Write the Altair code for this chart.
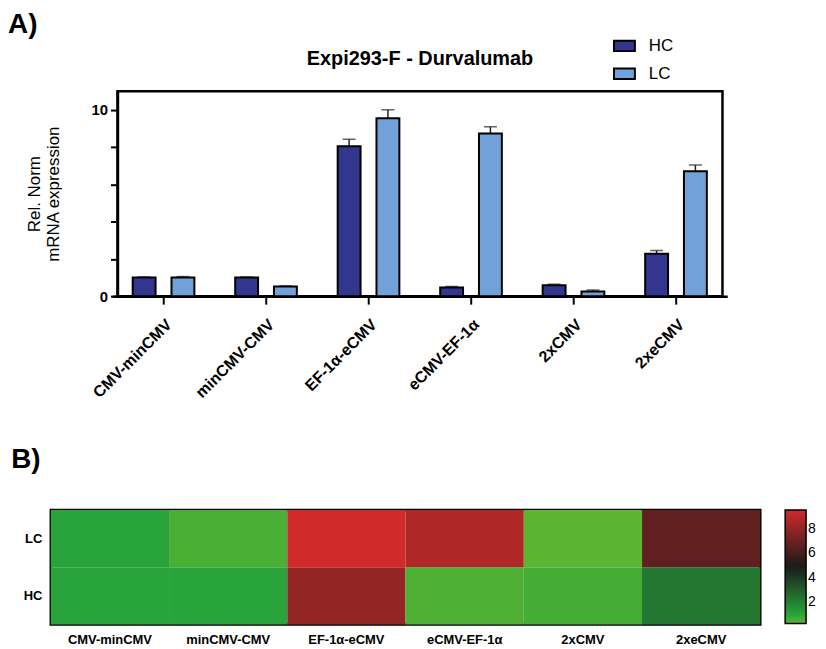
import altair as alt
import pandas as pd

constructs = ["CMV-minCMV", "minCMV-CMV", "EF-1α-eCMV", "eCMV-EF-1α", "2xCMV", "2xeCMV"]
chains = ["HC", "LC"]
hc_mean = [1.0, 1.0, 8.05, 0.46, 0.59, 2.28]
hc_upper = [1.03, 1.03, 8.42, 0.52, 0.64, 2.45]
lc_mean = [1.0, 0.52, 9.55, 8.73, 0.25, 6.70]
lc_upper = [1.05, 0.55, 10.0, 9.09, 0.33, 7.04]
y_ticks = list(range(0, 11))
heat_legend_ticks = [2, 4, 6, 8]

bar_colors = ["#32368f", "#72a0d8"]
heat_domain = [0.25, 1.0, 4.9, 9.55]
heat_colors = ["#5cb531", "#28a43b", "#1a1a1a", "#d02a2a"]

rows = []
for i, c in enumerate(constructs):
    rows.append({"construct": c, "chain": "HC", "mean": hc_mean[i], "upper": hc_upper[i]})
    rows.append({"construct": c, "chain": "LC", "mean": lc_mean[i], "upper": lc_upper[i]})
df = pd.DataFrame(rows)

FONT = "Liberation Sans"
frame = alt.ViewBackground(stroke="black", strokeWidth=2.5)

x_enc = alt.X(
    "construct:N", sort=constructs,
    scale=alt.Scale(range=[-5.2, 612.8], paddingInner=0, paddingOuter=0),
    axis=alt.Axis(title=None, labelAngle=-45, labelFontSize=16, labelFontWeight="bold",
                  labelColor="black", tickSize=8, tickWidth=2, tickColor="black",
                  domainColor="black", domainWidth=2.5, labelPadding=12, labelOffset=0),
)
xo_enc = alt.XOffset("chain:N", sort=chains,
                     scale=alt.Scale(paddingInner=0.41, paddingOuter=0.526))
y_scale = alt.Scale(domain=[0, 11], nice=False)

bars = alt.Chart(df).mark_bar(stroke="black", strokeWidth=2).encode(
    x=x_enc,
    xOffset=xo_enc,
    y=alt.Y("mean:Q", scale=y_scale,
            axis=alt.Axis(title=["Rel. Norm", "mRNA expression"], titleFontSize=17,
                          titleFontWeight="normal", titleColor="black",
                          values=y_ticks,
                          labelExpr="datum.value % 5 === 0 ? datum.label : ''",
                          labelFontSize=15, labelFontWeight="bold", labelColor="black",
                          tickSize=7, tickWidth=2, tickColor="black",
                          domainColor="black", domainWidth=2.5, grid=False,
                          labelPadding=3, titlePadding=29)),
    color=alt.Color("chain:N", sort=chains,
                    scale=alt.Scale(domain=chains, range=bar_colors),
                    legend=alt.Legend(title=None, orient="none", legendX=565, legendY=-57,
                                      symbolType="M-1,-0.5L1,-0.5L1,0.5L-1,0.5Z",
                                      symbolSize=441, symbolStrokeColor="black",
                                      symbolStrokeWidth=2, labelFontSize=17,
                                      labelColor="black", labelOffset=13,
                                      rowPadding=7, padding=0)),
)

err_rule = alt.Chart(df).mark_rule(color="#222", strokeWidth=1.5).encode(
    x=x_enc, xOffset=xo_enc, y=alt.Y("mean:Q", scale=y_scale), y2="upper:Q"
)
err_cap = alt.Chart(df).mark_tick(color="#222", thickness=1.5, size=13).encode(
    x=x_enc, xOffset=xo_enc, y=alt.Y("upper:Q", scale=y_scale)
)

bar_chart = alt.layer(err_rule, err_cap, bars).properties(
    width=608, height=206, view=frame,
    title=alt.Title("Expi293-F - Durvalumab", fontSize=20, fontWeight="bold",
                    color="black", anchor="middle", offset=22),
)

spacer = alt.Chart(pd.DataFrame({"v": [0]})).mark_point(opacity=0).encode(
    x=alt.X("v:Q", axis=None), y=alt.Y("v:Q", axis=None)
).properties(width=67, height=10, view=alt.ViewBackground(strokeOpacity=0))

top_block = alt.hconcat(spacer, bar_chart, spacing=0, bounds="flush").properties(
    title=alt.Title("A)", fontSize=28, fontWeight="bold", color="black",
                    anchor="start", frame="bounds", dx=-16, offset=-5)
)

heat = alt.Chart(df).mark_rect().encode(
    x=alt.X("construct:N", sort=constructs,
            axis=alt.Axis(title=None, labelAngle=0, labelFontSize=13, labelFontWeight="bold",
                          labelColor="black", ticks=False, domain=False, labelPadding=9)),
    y=alt.Y("chain:N", sort=["LC", "HC"],
            axis=alt.Axis(title=None, labelFontSize=13, labelFontWeight="bold",
                          labelColor="black", ticks=False, domain=False, labelPadding=9)),
    color=alt.Color("mean:Q",
                    scale=alt.Scale(domain=heat_domain, range=heat_colors, interpolate="rgb"),
                    legend=alt.Legend(title=None, values=heat_legend_ticks,
                                      gradientLength=114, gradientThickness=21,
                                      gradientStrokeColor="black", gradientStrokeWidth=1.5,
                                      labelFontSize=14, labelColor="black", offset=25,
                                      labelOffset=2, padding=0)),
).properties(
    width=713, height=115, view=frame,
    title=alt.Title("B)", fontSize=28, fontWeight="bold", color="black",
                    anchor="start", frame="bounds", dx=-12, offset=36),
)

chart = alt.vconcat(top_block, heat, spacing=42).properties(
    padding={"left": 0, "top": 2, "right": 0, "bottom": 0}
).configure(font=FONT)

chart.save("out.html", embed_options={"renderer": "svg", "actions": False})
